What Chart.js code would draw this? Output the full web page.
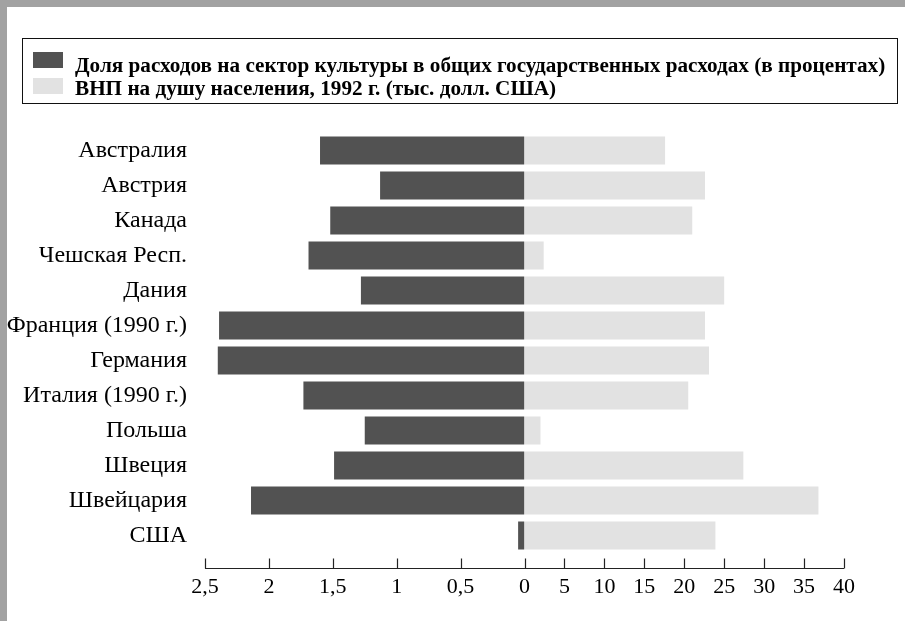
<!DOCTYPE html>
<html>
<head>
<meta charset="utf-8">
<script src="https://cdn.jsdelivr.net/npm/chart.js@4.4.1/dist/chart.umd.min.js"></script>
<style>
  html, body { margin: 0; padding: 0; background: #fff; }
  #wrap { position: relative; width: 905px; height: 621px; overflow: hidden; }
  #chart { position: absolute; left: 0; top: 0; }
  .frame { position: absolute; background: #a2a2a2; }
  #legend {
    position: absolute; left: 22px; top: 38px; width: 876px; height: 66px;
    border: 1px solid #111; box-sizing: border-box;
    font-family: "Liberation Serif", serif; font-weight: bold; font-size: 21.2px; color: #000;
  }
  .txt { position: absolute; left: 52px; height: 24px; line-height: 24px; white-space: nowrap; }
  .sw { position: absolute; left: 10px; width: 30px; height: 16px; }
</style>
</head>
<body>
<div id="wrap">
  <canvas id="chart" width="905" height="621"></canvas>
  <div class="frame" style="left:0;top:0;width:905px;height:7px"></div>
  <div class="frame" style="left:0;top:0;width:7px;height:621px"></div>
  <div id="legend"></div>
</div>
<script>
const countries = ['Австралия', 'Австрия', 'Канада', 'Чешская Респ.', 'Дания', 'Франция (1990 г.)',
  'Германия', 'Италия (1990 г.)', 'Польша', 'Швеция', 'Швейцария', 'США'];
// доля расходов на культуру, %
const cultureShare = [1.6, 1.13, 1.52, 1.69, 1.28, 2.39, 2.4, 1.73, 1.25, 1.49, 2.14, 0.05];
// ВНП на душу, тыс. долл.
const gnpPerCapita = [17.6, 22.6, 21.0, 2.4, 25.0, 22.6, 23.1, 20.5, 2.0, 27.4, 36.8, 23.9];
const seriesNames = [
  'Доля расходов на сектор культуры в общих государственных расходах (в процентах)',
  'ВНП на душу населения, 1992 г. (тыс. долл. США)'
];
const shareTicks = { max: 2.5, step: 0.5 };
const gnpTicks = { max: 40, step: 5 };

const darkFill = '#525252';
const lightFill = '#e2e2e2';
const serif = '"Liberation Serif", "Times New Roman", serif';

// legend box (swatch tops / text tops inside the frame)
const legendBox = document.getElementById('legend');
const swTop = [13, 39], txtTop = [14, 37];
[darkFill, lightFill].forEach((c, i) => {
  legendBox.innerHTML += `<span class="sw" style="top:${swTop[i]}px;background:${c}"></span>` +
    `<div class="txt" style="top:${txtTop[i]}px">${seriesNames[i]}</div>`;
});

// axis line with upward ticks, a bit below the bars
const axisTicks = {
  id: 'axisTicks',
  afterDraw(chart) {
    const ctx = chart.ctx;
    const yLine = Math.round(chart.chartArea.bottom + 15) + 0.5;
    ctx.save();
    ctx.strokeStyle = '#222';
    ctx.lineWidth = 1.2;
    ctx.beginPath();
    ['x1', 'x2'].forEach(id => {
      const s = chart.scales[id];
      ctx.moveTo(s.left, yLine);
      ctx.lineTo(s.right, yLine);
      s.ticks.forEach(t => {
        const px = Math.round(s.getPixelForValue(t.value)) + 0.5;
        ctx.moveTo(px, yLine);
        ctx.lineTo(px, yLine - 10);
      });
    });
    ctx.stroke();
    ctx.restore();
  }
};

const tickFont = { family: serif, size: 22 };

new Chart(document.getElementById('chart'), {
  type: 'bar',
  data: {
    labels: countries,
    datasets: [
      { label: seriesNames[0], data: cultureShare, xAxisID: 'x1', backgroundColor: darkFill, grouped: false, barPercentage: 0.8, categoryPercentage: 1 },
      { label: seriesNames[1], data: gnpPerCapita, xAxisID: 'x2', backgroundColor: lightFill, grouped: false, barPercentage: 0.8, categoryPercentage: 1 }
    ]
  },
  options: {
    indexAxis: 'y',
    responsive: false,
    animation: false,
    layout: { padding: { top: 133, right: 61, bottom: 0, left: 0 } },
    plugins: { legend: { display: false }, tooltip: { enabled: false } },
    scales: {
      y: {
        grid: { display: false, drawTicks: false },
        border: { display: false },
        ticks: { color: '#000', font: { family: serif, size: 24 }, padding: 18, autoSkip: false },
        afterFit: s => { s.width = 205; }
      },
      x1: {
        type: 'linear', position: 'bottom', stack: 'x', stackWeight: 1, reverse: true,
        min: 0, max: shareTicks.max,
        grid: { display: false, drawTicks: false },
        border: { display: false },
        ticks: { stepSize: shareTicks.step, color: '#000', font: tickFont, padding: 21, autoSkip: false, maxRotation: 0,
          callback: v => String(v).replace('.', ',') },
        afterFit: s => { s.height = 68; }
      },
      x2: {
        type: 'linear', position: 'bottom', stack: 'x', stackWeight: 1,
        min: 0, max: gnpTicks.max,
        grid: { display: false, drawTicks: false },
        border: { display: false },
        ticks: { stepSize: gnpTicks.step, color: '#000', font: tickFont, padding: 21, autoSkip: false, maxRotation: 0,
          callback: v => v === 0 ? '' : v },
        afterFit: s => { s.height = 68; }
      }
    }
  },
  plugins: [axisTicks]
});
</script>
</body>
</html>
